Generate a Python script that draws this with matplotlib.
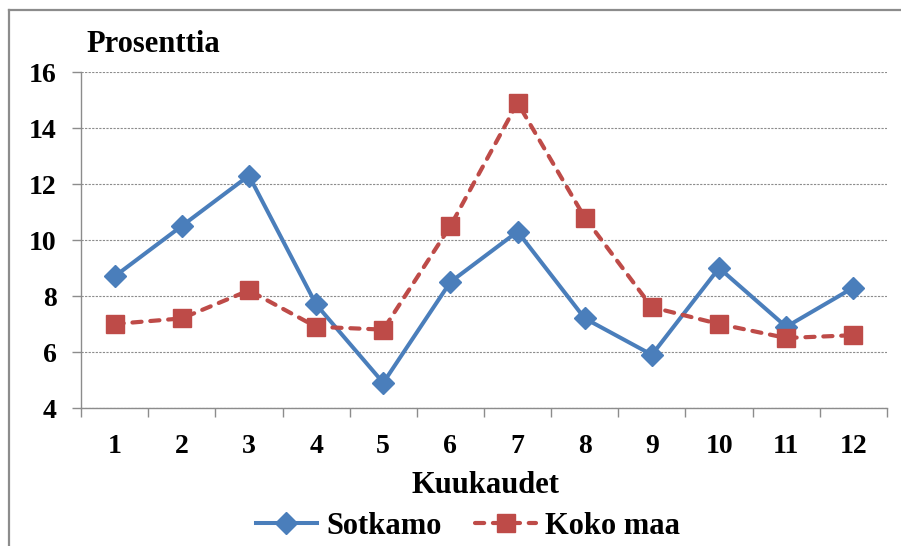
import matplotlib
matplotlib.use('Agg')
import matplotlib.pyplot as plt
from matplotlib.lines import Line2D
from matplotlib.ticker import FixedLocator, NullFormatter

plt.rcParams['font.family'] = ['Liberation Serif', 'DejaVu Serif']
plt.rcParams['font.weight'] = 'bold'

months = [1, 2, 3, 4, 5, 6, 7, 8, 9, 10, 11, 12]
sotkamo = [8.7, 10.5, 12.3, 7.7, 4.9, 8.5, 10.3, 7.2, 5.9, 9.0, 6.9, 8.3]
koko_maa = [7.0, 7.2, 8.2, 6.9, 6.8, 10.5, 14.9, 10.8, 7.6, 7.0, 6.5, 6.6]
yticks = [4, 6, 8, 10, 12, 14, 16]

blue = '#4A7EBB'
red = '#BE4B48'
gray = '#8C8C8C'

fig = plt.figure(figsize=(9.01, 5.46), dpi=100)
ax = fig.add_axes([81 / 901, 1 - 408 / 546, 806 / 901, 336 / 546])

ax.plot(months, sotkamo, color=blue, lw=2.9, marker='D', markersize=11,
        label='Sotkamo', zorder=3)
ax.plot(months, koko_maa, color=red, lw=3.0, linestyle=(0, (2.2, 2.1)),
        dash_capstyle='round', marker='s', markersize=13.5,
        label='Koko maa', zorder=3)

ax.set_xlim(0.5, 12.5)
ax.set_ylim(4, 16)
ax.set_yticks(yticks)
ax.yaxis.grid(True, color=gray, linestyle=(0, (2, 1.2)), lw=0.8)
ax.set_axisbelow(True)

# category boundaries as ticks, labels at the centres
ax.xaxis.set_major_locator(FixedLocator([m - 0.5 for m in months] + [12.5]))
ax.xaxis.set_major_formatter(NullFormatter())
ax.xaxis.set_minor_locator(FixedLocator(months))
ax.set_xticklabels([str(m) for m in months], minor=True)
ax.tick_params(axis='x', which='major', direction='out', length=6.5,
               width=1, color=gray)
ax.tick_params(axis='x', which='minor', length=0, pad=19, labelsize=20)
ax.tick_params(axis='y', direction='out', length=6.5, width=1, color=gray,
               pad=11, labelsize=20)

for s in ['top', 'right']:
    ax.spines[s].set_visible(False)
for s in ['left', 'bottom']:
    ax.spines[s].set_color(gray)
    ax.spines[s].set_linewidth(1)

fig.text(86 / 901, 1 - 52 / 546, 'Prosenttia', fontsize=22,
         fontweight='bold', ha='left', va='baseline')
fig.text(485 / 901, 1 - 493 / 546, 'Kuukaudet', fontsize=22,
         fontweight='bold', ha='center', va='baseline')

handles, labels = ax.get_legend_handles_labels()
fig.legend(handles, labels, loc='center', bbox_to_anchor=(468 / 901, 1 - 526 / 546),
           ncol=2, frameon=False, fontsize=22, handlelength=2.0,
           handletextpad=0.3, columnspacing=1.1, borderpad=0)

# chart area border (left and top edges visible)
fig.add_artist(Line2D([9 / 901, 9 / 901], [0, 1 - 10 / 546], color=gray, lw=1.6))
fig.add_artist(Line2D([9 / 901, 1], [1 - 10 / 546, 1 - 10 / 546], color=gray, lw=1.6))

fig.savefig('out.png', dpi=100)
